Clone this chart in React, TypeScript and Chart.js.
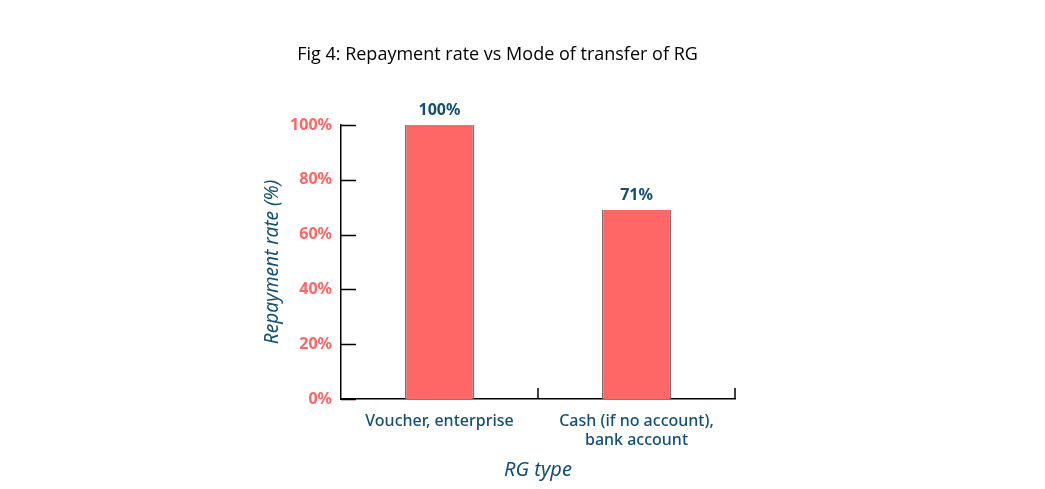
import React, { useRef, useEffect } from 'react';
import { Chart, registerables, Plugin } from 'chart.js';

Chart.register(...registerables);

const categories: Array<string | string[]> = [
    'Voucher, enterprise',
    ['Cash (if no account),', 'bank account'],
];
const repaymentRates = [100, 69];
const valueLabels = ['100%', '71%'];
const yTicks = [0, 20, 40, 60, 80, 100];

const CORAL = '#ff6666';
const NAVY = '#124f74';

// tick marks drawn inside the plot, like the original figure
const innerTicks: Plugin<'bar'> = {
    id: 'innerTicks',
    afterDraw(chart) {
        const { ctx, chartArea, scales } = chart;
        const x = scales.x;
        const y = scales.y;
        ctx.save();
        ctx.strokeStyle = '#000';
        ctx.lineWidth = 1.5;
        ctx.beginPath();
        yTicks.forEach(v => {
            const py = Math.round(y.getPixelForValue(v)) + 0.5;
            ctx.moveTo(chartArea.left, py);
            ctx.lineTo(chartArea.left + 15, py);
        });
        const half = (x.getPixelForTick(1) - x.getPixelForTick(0)) / 2;
        categories.forEach((_, i) => {
            const px = Math.round(x.getPixelForTick(i) + half);
            ctx.moveTo(px, chartArea.bottom);
            ctx.lineTo(px, chartArea.bottom - 11);
        });
        ctx.stroke();

        // value labels above bars
        const meta = chart.getDatasetMeta(0);
        ctx.fillStyle = NAVY;
        ctx.font = 'bold 16px "Noto Sans"';
        ctx.textAlign = 'center';
        ctx.textBaseline = 'middle';
        meta.data.forEach((bar, i) => {
            ctx.fillText(valueLabels[i], bar.x, bar.y - 15);
        });
        ctx.restore();
    },
};

export default function App() {
    const canvasRef = useRef<HTMLCanvasElement | null>(null);

    useEffect(() => {
        if (!canvasRef.current) return;
        const chart = new Chart(canvasRef.current, {
            type: 'bar',
            data: {
                labels: categories,
                datasets: [
                    {
                        data: repaymentRates,
                        backgroundColor: CORAL,
                        borderColor: '#8a6464',
                        borderWidth: { left: 1.5, right: 1.5, top: 0, bottom: 0 },
                        categoryPercentage: 0.35,
                        barPercentage: 1,
                    },
                ],
            },
            options: {
                responsive: false,
                animation: false,
                layout: { padding: { left: 260, right: 310, top: 0, bottom: 0 } },
                plugins: {
                    legend: { display: false },
                    tooltip: { enabled: false },
                    title: {
                        display: true,
                        text: 'Fig 4: Repayment rate vs Mode of transfer of RG',
                        color: '#000',
                        font: { family: '"Open Sans"', size: 18, weight: 'normal' },
                        padding: { top: 44, bottom: 59.4 },
                    },
                },
                scales: {
                    x: {
                        grid: { display: false, drawTicks: false },
                        border: { display: true, color: '#000', width: 1.5 },
                        ticks: {
                            color: NAVY,
                            padding: 13,
                            font: { family: '"Noto Sans"', size: 16, weight: 500, lineHeight: 1.19 },
                        },
                        title: {
                            display: true,
                            text: 'RG type',
                            color: NAVY,
                            font: { family: '"Noto Sans"', size: 20, style: 'italic' },
                            padding: { top: 0, bottom: 7 },
                        },
                        afterFit(scale) {
                            scale.height = 90;
                        },
                    },
                    y: {
                        min: 0,
                        max: 100,
                        afterBuildTicks(scale) {
                            scale.ticks = yTicks.map(v => ({ value: v }));
                        },
                        grid: { display: false, drawTicks: false },
                        border: { display: true, color: '#000', width: 1.5 },
                        ticks: {
                            color: CORAL,
                            padding: 9,
                            font: { family: '"Noto Sans"', size: 16, weight: 'bold' },
                            callback: v => `${v}%`,
                        },
                        title: {
                            display: true,
                            text: 'Repayment rate (%)',
                            color: NAVY,
                            font: { family: '"Noto Sans"', size: 19, style: 'italic' },
                            padding: { top: 1, bottom: 0 },
                        },
                        afterFit(scale) {
                            scale.width = 81;
                        },
                    },
                },
            },
            plugins: [innerTicks],
        });
        return () => chart.destroy();
    }, []);

    return (
        <div style={{ position: 'fixed', left: 0, top: 0, width: 1045, height: 489, background: '#fff' }}>
            <canvas ref={canvasRef} width={1045} height={489} />
        </div>
    );
}
